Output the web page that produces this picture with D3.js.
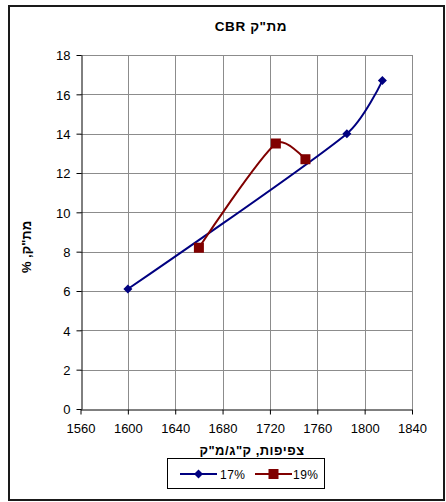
<!DOCTYPE html>
<html>
<head>
<meta charset="utf-8">
<script src="https://cdn.jsdelivr.net/npm/d3@7"></script>
<style>
  html, body { margin: 0; padding: 0; background: #fff; }
  svg { display: block; font-family: "Liberation Sans", Arial, sans-serif; }
</style>
</head>
<body>
<svg id="chart" width="446" height="502"></svg>
<script>
// Density (kg/m³) vs. CBR (%) for two moisture contents
const xTicks = [1560, 1600, 1640, 1680, 1720, 1760, 1800, 1840];
const yTicks = [0, 2, 4, 6, 8, 10, 12, 14, 16, 18];

const density17 = [1600, 1785, 1815];
const cbr17 = [6.1, 14.0, 16.7];

const density19 = [1660, 1725, 1750];
const cbr19 = [8.2, 13.5, 12.7];

const seriesNames = ["17%", "19%"];
const seriesColors = ["#000080", "#800000"];

const titleText = "מת\"ק CBR";
const xTitle = "צפיפות, ק\"ג/מ\"ק";
const yTitle = "מת\"ק, %";

const svg = d3.select("#chart");

// outer frame
svg.append("rect")
  .attr("x", 9).attr("y", 6).attr("width", 435).attr("height", 494)
  .attr("fill", "none").attr("stroke", "#1a1a1a").attr("stroke-width", 2);

const plot = { left: 80.5, right: 412, top: 55, bottom: 409 };

const x = d3.scaleLinear().domain([1560, 1840]).range([plot.left, plot.right]);
const y = d3.scaleLinear().domain([0, 18]).range([plot.bottom, plot.top]);

// grid
const grid = svg.append("g");
grid.selectAll("line.v").data(xTicks.slice(1)).join("line")
  .attr("x1", d => Math.round(x(d)) + 0.5).attr("x2", d => Math.round(x(d)) + 0.5)
  .attr("y1", plot.top).attr("y2", plot.bottom)
  .attr("stroke", "#8c8c8c").attr("stroke-width", 1);
grid.selectAll("line.h").data(yTicks.slice(1)).join("line")
  .attr("y1", d => Math.round(y(d)) + 0.5).attr("y2", d => Math.round(y(d)) + 0.5)
  .attr("x1", plot.left).attr("x2", plot.right)
  .attr("stroke", "#8c8c8c").attr("stroke-width", 1);

// axes
const xAxis = svg.append("g")
  .attr("transform", `translate(0,${Math.round(plot.bottom) + 0.5})`)
  .call(d3.axisBottom(x).tickValues(xTicks).tickFormat(d3.format("d"))
    .tickSize(5).tickSizeOuter(0).tickPadding(9));
const yAxis = svg.append("g")
  .attr("transform", `translate(${Math.round(plot.left) + 0.5},0)`)
  .call(d3.axisLeft(y).tickValues(yTicks).tickFormat(d3.format("d"))
    .tickSize(5).tickSizeOuter(0).tickPadding(6));

[xAxis, yAxis].forEach(g => {
  g.select(".domain").attr("stroke", "#000");
  g.selectAll(".tick line").attr("stroke", "#000");
  g.selectAll(".tick text")
    .attr("fill", "#000")
    .style("font-family", "'Liberation Sans', Arial, sans-serif")
    .style("font-size", "13px");
});
yAxis.selectAll(".tick text").attr("dy", "0.36em");

// Smoothed line: cubic Bézier segments; each handle follows the
// neighbour-to-neighbour direction (Catmull-Rom length), capped by
// a third of the segment it belongs to.
function smoothCurve(context) {
  let pts = [];
  return {
    areaStart() {}, areaEnd() {},
    lineStart() { pts = []; },
    point(px, py) { pts.push([px, py]); },
    lineEnd() {
      const n = pts.length;
      if (!n) return;
      context.moveTo(pts[0][0], pts[0][1]);
      const tangent = i => {
        if (i === 0 || i === n - 1) return null;
        const dx = pts[i + 1][0] - pts[i - 1][0], dy = pts[i + 1][1] - pts[i - 1][1];
        const l = Math.hypot(dx, dy) || 1;
        return { ux: dx / l, uy: dy / l, len: l / 6 };
      };
      for (let i = 0; i < n - 1; i++) {
        const a = pts[i], b = pts[i + 1];
        const seg = Math.hypot(b[0] - a[0], b[1] - a[1]) / 3;
        const ta = tangent(i), tb = tangent(i + 1);
        const la = ta ? Math.min(ta.len, seg) : 0;
        const lb = tb ? Math.min(tb.len, seg) : 0;
        const c1 = ta ? [a[0] + ta.ux * la, a[1] + ta.uy * la] : a;
        const c2 = tb ? [b[0] - tb.ux * lb, b[1] - tb.uy * lb] : b;
        context.bezierCurveTo(c1[0], c1[1], c2[0], c2[1], b[0], b[1]);
      }
    }
  };
}

// series
const series = [
  { name: seriesNames[0], color: seriesColors[0], pts: density17.map((d, i) => [d, cbr17[i]]), marker: "diamond" },
  { name: seriesNames[1], color: seriesColors[1], pts: density19.map((d, i) => [d, cbr19[i]]), marker: "square" }
];

const line = d3.line()
  .x(d => x(d[0])).y(d => y(d[1]))
  .curve(smoothCurve);

function drawMarker(g, type, cx, cy, color) {
  if (type === "diamond") {
    g.append("path")
      .attr("d", `M${cx},${cy - 4.5}L${cx + 4.5},${cy}L${cx},${cy + 4.5}L${cx - 4.5},${cy}Z`)
      .attr("fill", color);
  } else {
    g.append("rect")
      .attr("x", cx - 5).attr("y", cy - 5).attr("width", 10).attr("height", 10)
      .attr("fill", color);
  }
}

series.forEach(s => {
  svg.append("path")
    .attr("d", line(s.pts))
    .attr("fill", "none").attr("stroke", s.color).attr("stroke-width", 2);
});
series.forEach(s => {
  const g = svg.append("g");
  s.pts.forEach(p => drawMarker(g, s.marker, x(p[0]), y(p[1]), s.color));
});

// titles
svg.append("text")
  .attr("x", 251).attr("y", 31)
  .attr("text-anchor", "middle").attr("direction", "rtl")
  .style("font-size", "13.5px").style("font-weight", "bold")
  .style("letter-spacing", "0.6px")
  .text(titleText);

svg.append("text")
  .attr("x", 252).attr("y", 455)
  .attr("text-anchor", "middle").attr("direction", "rtl")
  .style("font-size", "13px").style("font-weight", "bold")
  .style("letter-spacing", "0.5px")
  .text(xTitle);

svg.append("text")
  .attr("transform", `translate(31,247) rotate(-90)`)
  .attr("text-anchor", "middle").attr("direction", "rtl")
  .style("font-size", "13px").style("font-weight", "bold")
  .text(yTitle);

// legend
const legend = svg.append("g");
legend.append("rect")
  .attr("x", 167.5).attr("y", 458.5).attr("width", 157).attr("height", 30)
  .attr("fill", "#fff").attr("stroke", "#000").attr("stroke-width", 1);

const legendItems = [{ x0: 180, tx: 220 }, { x0: 255, tx: 293 }];
series.forEach((s, i) => {
  const it = legendItems[i];
  const ly = 474;
  legend.append("line")
    .attr("x1", it.x0).attr("x2", it.x0 + 37).attr("y1", ly).attr("y2", ly)
    .attr("stroke", s.color).attr("stroke-width", 2);
  drawMarker(legend, s.marker, it.x0 + 18.5, ly, s.color);
  legend.append("text")
    .attr("x", it.tx).attr("y", ly + 4.5)
    .style("font-size", "12px")
    .style("letter-spacing", "0.5px")
    .text(s.name);
});
</script>
</body>
</html>
